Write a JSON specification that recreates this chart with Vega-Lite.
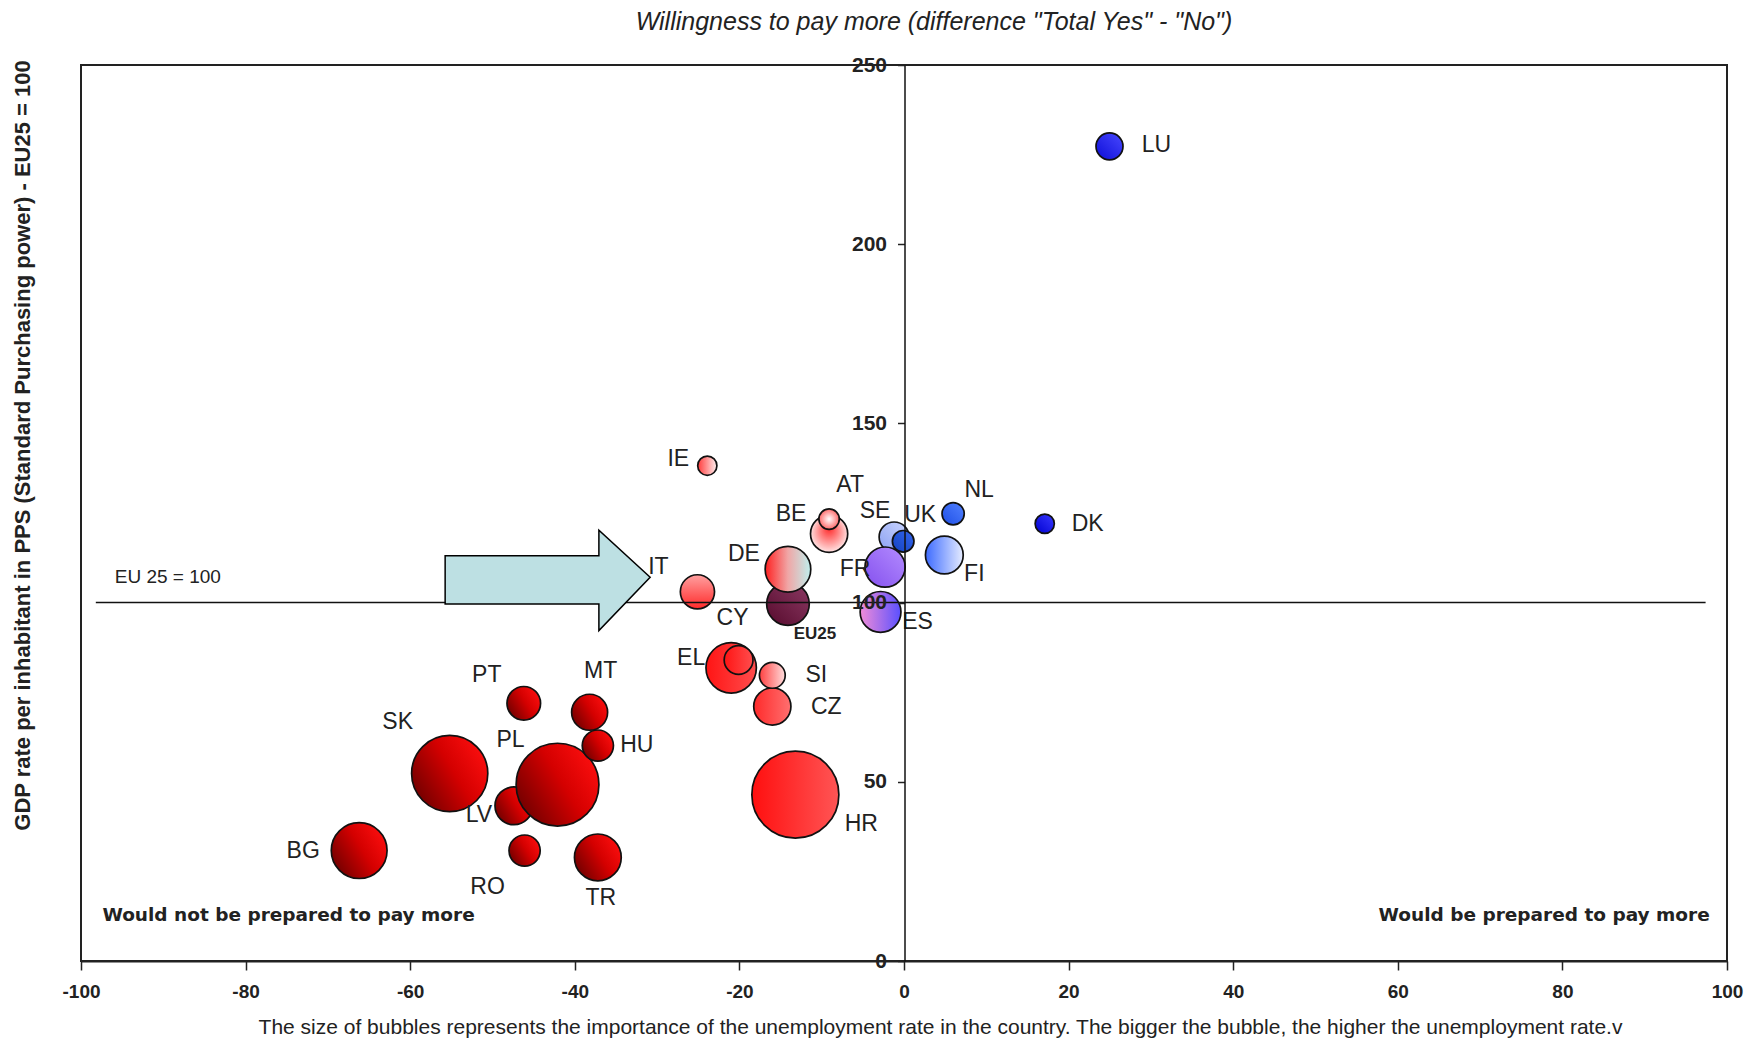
{
  "$schema": "https://vega.github.io/schema/vega-lite/v6.json",
  "width": 1646,
  "height": 896,
  "autosize": {"type": "none"},
  "padding": {"left": 81, "top": 65, "right": 24, "bottom": 78},
  "background": "white",
  "config": {
    "view": {"stroke": "#222", "strokeWidth": 2},
    "font": "Liberation Sans",
    "circle": {"opacity": 1, "fillOpacity": 1, "stroke": "#111", "strokeWidth": 1.7},
    "text": {"font": "Liberation Sans", "fontSize": 23, "color": "#222", "align": "center", "baseline": "middle"}
  },
  "title": {
    "text": "Willingness to pay more (difference \"Total Yes\" - \"No\")",
    "font": "Liberation Sans",
    "fontStyle": "italic",
    "fontWeight": "normal",
    "fontSize": 25,
    "color": "#222",
    "anchor": "middle",
    "frame": "group",
    "baseline": "bottom",
    "offset": 11,
    "dx": 30,
    "dy": 18
  },
  "datasets": {
    "bubbles": [
      {"country": "LU", "x": 24.97, "y": 227.3, "unemployment": 4.5},
      {"country": "DK", "x": 17.1, "y": 122.0, "unemployment": 3.2},
      {"country": "NL", "x": 5.97, "y": 124.8, "unemployment": 3.7},
      {"country": "FI", "x": 4.9, "y": 113.3, "unemployment": 6.3},
      {"country": "SE", "x": -1.2, "y": 118.3, "unemployment": 5.0},
      {"country": "UK", "x": -0.1, "y": 117.1, "unemployment": 3.6},
      {"country": "FR", "x": -2.3, "y": 109.9, "unemployment": 6.7},
      {"country": "ES", "x": -2.85, "y": 97.4, "unemployment": 6.8},
      {"country": "BE", "x": -9.1, "y": 119.2, "unemployment": 6.2},
      {"country": "AT", "x": -9.1, "y": 123.3, "unemployment": 3.4},
      {"country": "IE", "x": -23.9, "y": 138.2, "unemployment": 3.2},
      {"country": "EU25", "x": -14.1, "y": 99.6, "unemployment": 7.1},
      {"country": "DE", "x": -14.1, "y": 109.3, "unemployment": 7.6},
      {"country": "IT", "x": -25.1, "y": 103.0, "unemployment": 5.7},
      {"country": "EL", "x": -21.0, "y": 81.8, "unemployment": 8.4},
      {"country": "CY", "x": -20.1, "y": 84.0, "unemployment": 4.8},
      {"country": "CZ", "x": -16.0, "y": 71.0, "unemployment": 6.2},
      {"country": "SI", "x": -16.0, "y": 79.7, "unemployment": 4.3},
      {"country": "HR", "x": -13.2, "y": 46.4, "unemployment": 14.5},
      {"country": "PT", "x": -46.2, "y": 71.9, "unemployment": 5.6},
      {"country": "MT", "x": -38.2, "y": 69.4, "unemployment": 6.0},
      {"country": "LV", "x": -47.4, "y": 43.3, "unemployment": 6.3},
      {"country": "PL", "x": -42.1, "y": 49.2, "unemployment": 13.8},
      {"country": "HU", "x": -37.2, "y": 60.1, "unemployment": 5.2},
      {"country": "SK", "x": -55.2, "y": 52.3, "unemployment": 12.7},
      {"country": "RO", "x": -46.1, "y": 30.8, "unemployment": 5.2},
      {"country": "TR", "x": -37.2, "y": 28.9, "unemployment": 7.8},
      {"country": "BG", "x": -66.2, "y": 30.8, "unemployment": 9.3}
    ]
  },
  "layer": [
    {
      "data": {"name": "bubbles"},
      "encoding": {
        "x": {
          "field": "x", "type": "quantitative",
          "scale": {"domain": [-100, 100], "nice": false, "zero": false},
          "axis": {
            "title": "The size of bubbles represents the importance of the unemployment rate in the country. The bigger the bubble, the higher the unemployment rate.v",
            "titleFont": "Liberation Sans", "titleFontSize": 21, "titleFontWeight": "normal", "titleColor": "#222",
            "titleX": 859, "titleY": 72, "titleAnchor": "middle", "titleAlign": "center", "titleBaseline": "alphabetic",
            "values": [-100, -80, -60, -40, -20, 0, 20, 40, 60, 80, 100],
            "labelExpr": "'' + datum.value",
            "labelFont": "Liberation Sans", "labelFontSize": 19, "labelFontWeight": "bold", "labelColor": "#222",
            "labelPadding": 12, "labelFlush": false, "labelOverlap": false,
            "tickSize": 9, "tickColor": "#222", "tickWidth": 1.5,
            "domainColor": "#222", "domainWidth": 2, "grid": false
          }
        },
        "y": {
          "field": "y", "type": "quantitative",
          "scale": {"domain": [0, 250], "nice": false, "zero": false},
          "axis": {
            "title": "GDP rate per inhabitant in PPS (Standard  Purchasing power)  - EU25 = 100",
            "titleFont": "Liberation Sans", "titleFontSize": 22, "titleFontWeight": "bold", "titleColor": "#222",
            "titleX": -882.5, "titleY": 380, "titleAngle": -90, "titleAlign": "center", "titleBaseline": "middle", "titleAnchor": "middle",
            "offset": -823.5,
            "zindex": 1,
            "values": [0, 50, 100, 150, 200, 250],
            "labelFont": "Liberation Sans", "labelFontSize": 21, "labelFontWeight": "bold", "labelColor": "#222",
            "labelPadding": 11, "labelFlush": false, "labelOverlap": false, "labelBaseline": "middle",
            "tickSize": 7, "tickColor": "#222", "tickWidth": 1.5,
            "domainColor": "#111", "domainWidth": 1.5, "grid": false
          }
        },
        "size": {
          "field": "unemployment", "type": "quantitative",
          "scale": {"type": "pow", "exponent": 2, "domain": [0, 15], "range": [0, 8100]},
          "legend": null
        }
      },
      "layer": [
        {"transform": [{"filter": {"field": "country", "equal": "LU"}}], "mark": {"type": "circle", "fill": {"gradient": "linear", "x1": 0, "y1": 1, "x2": 1, "y2": 0, "stops": [{"offset": 0, "color": "#0c0cd8"}, {"offset": 1, "color": "#4a4aff"}]}}},
        {"transform": [{"filter": {"field": "country", "equal": "DK"}}], "mark": {"type": "circle", "fill": {"gradient": "linear", "x1": 0, "y1": 1, "x2": 1, "y2": 0, "stops": [{"offset": 0, "color": "#0000d0"}, {"offset": 1, "color": "#3a3aff"}]}}},
        {"transform": [{"filter": {"field": "country", "equal": "NL"}}], "mark": {"type": "circle", "fill": {"gradient": "linear", "x1": 0, "y1": 1, "x2": 1, "y2": 0, "stops": [{"offset": 0, "color": "#1e4ee6"}, {"offset": 1, "color": "#5282ff"}]}}},
        {"transform": [{"filter": {"field": "country", "equal": "FI"}}], "mark": {"type": "circle", "fill": {"gradient": "linear", "x1": 0, "y1": 0.5, "x2": 1, "y2": 0.5, "stops": [{"offset": 0, "color": "#3d6bff"}, {"offset": 1, "color": "#e6ecff"}]}}},
        {"transform": [{"filter": {"field": "country", "equal": "SE"}}], "mark": {"type": "circle", "fill": {"gradient": "linear", "x1": 0, "y1": 1, "x2": 1, "y2": 0, "stops": [{"offset": 0, "color": "#8aa0f2"}, {"offset": 1, "color": "#ccd6ff"}]}}},
        {"transform": [{"filter": {"field": "country", "equal": "UK"}}], "mark": {"type": "circle", "fill": {"gradient": "linear", "x1": 0, "y1": 1, "x2": 1, "y2": 0, "stops": [{"offset": 0, "color": "#1442c0"}, {"offset": 1, "color": "#3466ee"}]}}},
        {"transform": [{"filter": {"field": "country", "equal": "FR"}}], "mark": {"type": "circle", "fill": {"gradient": "linear", "x1": 0, "y1": 1, "x2": 1, "y2": 0, "stops": [{"offset": 0, "color": "#8450ee"}, {"offset": 1, "color": "#b48cff"}]}}},
        {"transform": [{"filter": {"field": "country", "equal": "ES"}}], "mark": {"type": "circle", "fill": {"gradient": "linear", "x1": 0, "y1": 0.5, "x2": 1, "y2": 0.5, "stops": [{"offset": 0, "color": "#f08cd8"}, {"offset": 1, "color": "#5a50ff"}]}}},
        {"transform": [{"filter": {"field": "country", "equal": "BE"}}], "mark": {"type": "circle", "fill": {"gradient": "radial", "x1": 0.5, "y1": 0.35, "r1": 0, "x2": 0.5, "y2": 0.5, "r2": 0.55, "stops": [{"offset": 0, "color": "#ff2a2a"}, {"offset": 1, "color": "#fff2f2"}]}}},
        {"transform": [{"filter": {"field": "country", "equal": "AT"}}], "mark": {"type": "circle", "fill": {"gradient": "radial", "x1": 0.5, "y1": 0.5, "r1": 0, "x2": 0.5, "y2": 0.5, "r2": 0.5, "stops": [{"offset": 0, "color": "#ffffff"}, {"offset": 1, "color": "#ff6a6a"}]}}},
        {"transform": [{"filter": {"field": "country", "equal": "IE"}}], "mark": {"type": "circle", "fill": {"gradient": "linear", "x1": 0, "y1": 0.5, "x2": 1, "y2": 0.5, "stops": [{"offset": 0, "color": "#ff3b3b"}, {"offset": 1, "color": "#fff0f0"}]}}},
        {"transform": [{"filter": {"field": "country", "equal": "EU25"}}], "mark": {"type": "circle", "fill": {"gradient": "linear", "x1": 0, "y1": 1, "x2": 1, "y2": 0, "stops": [{"offset": 0, "color": "#560a2c"}, {"offset": 1, "color": "#8c3a64"}]}}},
        {"transform": [{"filter": {"field": "country", "equal": "DE"}}], "mark": {"type": "circle", "fill": {"gradient": "linear", "x1": 0, "y1": 0.5, "x2": 1, "y2": 0.5, "stops": [{"offset": 0, "color": "#ff2020"}, {"offset": 0.5, "color": "#f0a6a6"}, {"offset": 1, "color": "#bff0ee"}]}}},
        {"transform": [{"filter": {"field": "country", "equal": "IT"}}], "mark": {"type": "circle", "fill": {"gradient": "linear", "x1": 0.5, "y1": 0, "x2": 0.5, "y2": 1, "stops": [{"offset": 0, "color": "#ffa0a0"}, {"offset": 1, "color": "#ff2a2a"}]}}},
        {"transform": [{"filter": {"field": "country", "oneOf": ["EL", "CY"]}}], "mark": {"type": "circle", "fill": {"gradient": "linear", "x1": 0, "y1": 0.5, "x2": 1, "y2": 0.5, "stops": [{"offset": 0, "color": "#ff1414"}, {"offset": 1, "color": "#ff4d4d"}]}}},
        {"transform": [{"filter": {"field": "country", "equal": "CZ"}}], "mark": {"type": "circle", "fill": {"gradient": "linear", "x1": 0, "y1": 0.5, "x2": 1, "y2": 0.5, "stops": [{"offset": 0, "color": "#ff2a2a"}, {"offset": 1, "color": "#ff7070"}]}}},
        {"transform": [{"filter": {"field": "country", "equal": "SI"}}], "mark": {"type": "circle", "fill": {"gradient": "linear", "x1": 0, "y1": 0.5, "x2": 1, "y2": 0.5, "stops": [{"offset": 0, "color": "#ff4040"}, {"offset": 1, "color": "#ffdede"}]}}},
        {"transform": [{"filter": {"field": "country", "equal": "HR"}}], "mark": {"type": "circle", "fill": {"gradient": "linear", "x1": 0, "y1": 0.5, "x2": 1, "y2": 0.5, "stops": [{"offset": 0, "color": "#ff0f0f"}, {"offset": 1, "color": "#ff5555"}]}}},
        {"transform": [{"filter": {"field": "country", "oneOf": ["PT", "MT", "LV", "PL", "HU", "SK", "RO", "TR", "BG"]}}], "mark": {"type": "circle", "fill": {"gradient": "linear", "x1": 0, "y1": 0.8, "x2": 1, "y2": 0.2, "stops": [{"offset": 0, "color": "#6a0000"}, {"offset": 0.55, "color": "#d40000"}, {"offset": 1, "color": "#ff1010"}]}}}
      ]
    },
    {
      "data": {"values": [{"y": 100, "x": -98.2, "x2": 97.4}]},
      "mark": {"type": "rule", "color": "#111", "strokeWidth": 1.5},
      "encoding": {
        "x": {"field": "x", "type": "quantitative"},
        "x2": {"field": "x2"},
        "y": {"field": "y", "type": "quantitative"}
      }
    },
    {
      "data": {"values": [{"x": -43.3, "y": 106.2}]},
      "mark": {"type": "point", "shape": "M-1,-0.24L0.5,-0.24L0.5,-0.49L1,-0.03L0.5,0.49L0.5,0.23L-1,0.23Z", "size": 42025, "filled": true, "fill": "#bde0e3", "stroke": "#000", "strokeWidth": 1.5, "opacity": 1, "fillOpacity": 1},
      "encoding": {
        "x": {"field": "x", "type": "quantitative"},
        "y": {"field": "y", "type": "quantitative"}
      }
    },
    {
      "data": {"values": [{"t": "Would not be prepared to pay more", "x": -97.4, "y": 12.7}]},
      "mark": {"type": "text", "font": "DejaVu Sans", "fontWeight": "bold", "fontSize": 18.5, "align": "left", "baseline": "middle", "color": "#222"},
      "encoding": {
        "x": {"field": "x", "type": "quantitative"},
        "y": {"field": "y", "type": "quantitative"},
        "text": {"field": "t"}
      }
    },
    {
      "data": {"values": [{"t": "Would be prepared  to pay more", "x": 97.9, "y": 12.7}]},
      "mark": {"type": "text", "font": "DejaVu Sans", "fontWeight": "bold", "fontSize": 18.5, "align": "right", "baseline": "middle", "color": "#222"},
      "encoding": {
        "x": {"field": "x", "type": "quantitative"},
        "y": {"field": "y", "type": "quantitative"},
        "text": {"field": "t"}
      }
    },
    {
      "data": {"values": [{"t": "EU 25 = 100", "x": -95.9, "y": 107.2}]},
      "mark": {"type": "text", "font": "Liberation Sans", "fontSize": 19, "align": "left", "baseline": "middle", "color": "#222"},
      "encoding": {
        "x": {"field": "x", "type": "quantitative"},
        "y": {"field": "y", "type": "quantitative"},
        "text": {"field": "t"}
      }
    },
    {
      "data": {"name": "bubbles"},
      "encoding": {
        "x": {"field": "x", "type": "quantitative"},
        "y": {"field": "y", "type": "quantitative"},
        "text": {"field": "country"}
      },
      "layer": [
        {"transform": [{"filter": "datum.country === 'LU'"}], "mark": {"type": "text", "dx": 47, "dy": -1}},
        {"transform": [{"filter": "datum.country === 'DK'"}], "mark": {"type": "text", "dx": 43, "dy": 0}},
        {"transform": [{"filter": "datum.country === 'NL'"}], "mark": {"type": "text", "dx": 26, "dy": -24}},
        {"transform": [{"filter": "datum.country === 'IE'"}], "mark": {"type": "text", "dx": -29, "dy": -7}},
        {"transform": [{"filter": "datum.country === 'AT'"}], "mark": {"type": "text", "dx": 21, "dy": -34}},
        {"transform": [{"filter": "datum.country === 'BE'"}], "mark": {"type": "text", "dx": -38, "dy": -20}},
        {"transform": [{"filter": "datum.country === 'SE'"}], "mark": {"type": "text", "dx": -19, "dy": -26}},
        {"transform": [{"filter": "datum.country === 'UK'"}], "mark": {"type": "text", "dx": 17, "dy": -26}},
        {"transform": [{"filter": "datum.country === 'FI'"}], "mark": {"type": "text", "dx": 30, "dy": 19}},
        {"transform": [{"filter": "datum.country === 'FR'"}], "mark": {"type": "text", "dx": -30, "dy": 2}},
        {"transform": [{"filter": "datum.country === 'DE'"}], "mark": {"type": "text", "dx": -44, "dy": -15}},
        {"transform": [{"filter": "datum.country === 'EU25'"}], "mark": {"type": "text", "dx": 27, "dy": 30, "fontSize": 17, "fontWeight": "bold"}},
        {"transform": [{"filter": "datum.country === 'IT'"}], "mark": {"type": "text", "dx": -39, "dy": -25}},
        {"transform": [{"filter": "datum.country === 'CY'"}], "mark": {"type": "text", "dx": -6, "dy": -42}},
        {"transform": [{"filter": "datum.country === 'EL'"}], "mark": {"type": "text", "dx": -40, "dy": -10}},
        {"transform": [{"filter": "datum.country === 'ES'"}], "mark": {"type": "text", "dx": 37, "dy": 10}},
        {"transform": [{"filter": "datum.country === 'SI'"}], "mark": {"type": "text", "dx": 44, "dy": 0}},
        {"transform": [{"filter": "datum.country === 'CZ'"}], "mark": {"type": "text", "dx": 54, "dy": 0}},
        {"transform": [{"filter": "datum.country === 'HR'"}], "mark": {"type": "text", "dx": 66, "dy": 29}},
        {"transform": [{"filter": "datum.country === 'PT'"}], "mark": {"type": "text", "dx": -37, "dy": -28}},
        {"transform": [{"filter": "datum.country === 'MT'"}], "mark": {"type": "text", "dx": 11, "dy": -41}},
        {"transform": [{"filter": "datum.country === 'HU'"}], "mark": {"type": "text", "dx": 39, "dy": -1}},
        {"transform": [{"filter": "datum.country === 'SK'"}], "mark": {"type": "text", "dx": -52, "dy": -52}},
        {"transform": [{"filter": "datum.country === 'PL'"}], "mark": {"type": "text", "dx": -47, "dy": -45}},
        {"transform": [{"filter": "datum.country === 'LV'"}], "mark": {"type": "text", "dx": -35, "dy": 9}},
        {"transform": [{"filter": "datum.country === 'RO'"}], "mark": {"type": "text", "dx": -37, "dy": 36}},
        {"transform": [{"filter": "datum.country === 'TR'"}], "mark": {"type": "text", "dx": 3, "dy": 41}},
        {"transform": [{"filter": "datum.country === 'BG'"}], "mark": {"type": "text", "dx": -56, "dy": 0}}
      ]
    }
  ]
}
